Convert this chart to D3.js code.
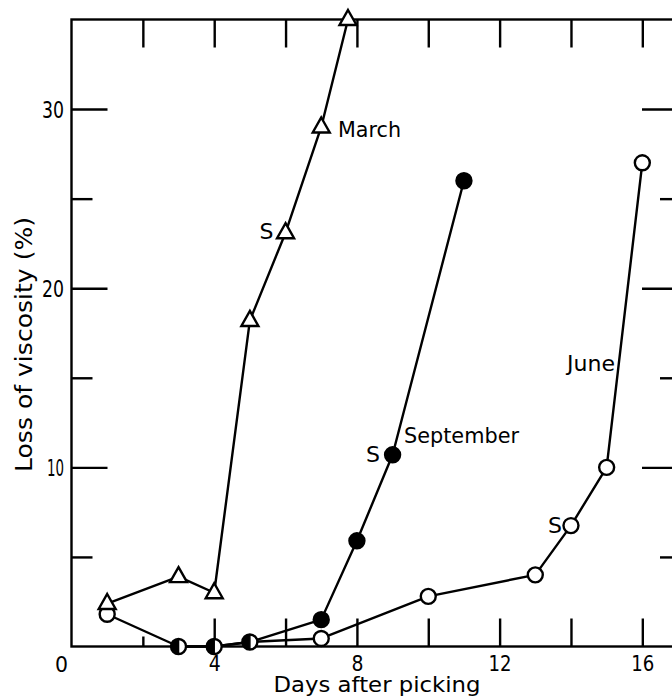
<!DOCTYPE html>
<html>
<head>
<meta charset="utf-8">
<script src="https://cdn.jsdelivr.net/npm/d3@7/dist/d3.min.js"></script>
<style>
  html, body { margin: 0; padding: 0; background: #fff; }
  svg { display: block; }
  text { font-family: "DejaVu Sans", "Liberation Sans", sans-serif; fill: #000; }
</style>
</head>
<body>
<svg id="chart" width="672" height="697"></svg>
<script>
// ---- data ----
const marchDays = [1, 3, 4, 5, 6, 7, 7.75];
const marchLoss = [2.4, 3.9, 3.0, 18.2, 23.1, 29.0, 35.0];

const septDays = [3, 4, 5, 7, 8, 9, 11];
const septLoss = [0, 0, 0.25, 1.5, 5.9, 10.7, 26.0];

const juneDays = [1, 3, 4, 5, 7, 10, 13, 14, 15, 16];
const juneLoss = [1.8, 0, 0, 0.25, 0.45, 2.8, 4.0, 6.75, 10.0, 27.0];

const xMajorTicks = [4, 8, 12, 16];
const xInnerTicks = [2, 4, 6, 8, 10, 12, 14, 16];
const yMajorTicks = [10, 20, 30];
const yMinorTicks = [5, 15, 25];

const seriesLabels = ["March", "September", "June"];
const sMarkLabel = "S";
const xTitle = "Days after picking";
const yTitle = "Loss of viscosity (%)";

// ---- layout ----
const svg = d3.select("#chart");
const x = d3.scaleLinear().domain([0, 17]).range([71.5, 678]);
const y = d3.scaleLinear().domain([0, 35]).range([646.5, 19.5]);

const ink = "#000";
const lw = 2.4;
const numFont = "'DejaVu Sans Condensed', 'Liberation Sans Narrow', sans-serif";

// frame
svg.append("rect")
  .attr("x", x(0)).attr("y", y(35))
  .attr("width", x(17) - x(0)).attr("height", y(0) - y(35))
  .attr("fill", "none").attr("stroke", ink).attr("stroke-width", lw);

// left major ticks with labels
const gLeft = svg.append("g").attr("transform", `translate(${x(0)},0)`)
  .call(d3.axisLeft(y).tickValues(yMajorTicks).tickSize(-36).tickPadding(7.5).tickFormat(d3.format("d")));
gLeft.select(".domain").remove();
gLeft.selectAll(".tick line").attr("stroke", ink).attr("stroke-width", lw);
gLeft.selectAll(".tick text")
  .attr("dy", "0.36em")
  .style("font-family", numFont)
  .style("font-size", "23px")
  .attr("textLength", d => d === 10 ? 17 : 22)
  .attr("lengthAdjust", "spacingAndGlyphs");

// left minor ticks
svg.append("g").attr("transform", `translate(${x(0)},0)`)
  .call(d3.axisLeft(y).tickValues(yMinorTicks).tickSize(-21).tickFormat(""))
  .call(g => g.select(".domain").remove())
  .selectAll(".tick line").attr("stroke", ink).attr("stroke-width", lw);

// right ticks (inward)
svg.append("g").attr("transform", `translate(${x(17)},0)`)
  .call(d3.axisRight(y).tickValues(yMajorTicks).tickSize(-36).tickFormat(""))
  .call(g => g.select(".domain").remove())
  .selectAll(".tick line").attr("stroke", ink).attr("stroke-width", lw);
svg.append("g").attr("transform", `translate(${x(17)},0)`)
  .call(d3.axisRight(y).tickValues(yMinorTicks).tickSize(-18).tickFormat(""))
  .call(g => g.select(".domain").remove())
  .selectAll(".tick line").attr("stroke", ink).attr("stroke-width", lw);

// top ticks (inward)
svg.append("g").attr("transform", `translate(0,${y(35)})`)
  .call(d3.axisTop(x).tickValues(xInnerTicks).tickSize(-28).tickFormat(""))
  .call(g => g.select(".domain").remove())
  .selectAll(".tick line").attr("stroke", ink).attr("stroke-width", lw);

// bottom ticks (inward); the tick at 2 is short in the reference
const gBottomTicks = svg.append("g").attr("transform", `translate(0,${y(0)})`)
  .call(d3.axisBottom(x).tickValues(xInnerTicks).tickSize(-28).tickFormat(""));
gBottomTicks.select(".domain").remove();
gBottomTicks.selectAll(".tick line").attr("stroke", ink).attr("stroke-width", lw)
  .attr("y2", d => d === 2 ? -10 : -28);

// bottom labels
const gBottom = svg.append("g").attr("transform", `translate(0,${y(0)})`)
  .call(d3.axisBottom(x).tickValues(xMajorTicks).tickSize(0).tickFormat(d3.format("d")));
gBottom.select(".domain").remove();
gBottom.selectAll(".tick text")
  .attr("y", 24.5).attr("dy", null)
  .style("font-family", numFont)
  .style("font-size", "21px")
  .attr("textLength", d => d >= 10 ? 23 : 12)
  .attr("lengthAdjust", "spacingAndGlyphs");

// origin "0"
svg.append("text")
  .attr("x", x(0) - 10).attr("y", y(0) + 25.5)
  .attr("text-anchor", "middle")
  .style("font-family", numFont)
  .style("font-size", "22px")
  .attr("textLength", 13).attr("lengthAdjust", "spacingAndGlyphs")
  .text("0");

// axis titles
svg.append("text")
  .attr("x", 377).attr("y", 692)
  .attr("text-anchor", "middle")
  .style("font-size", "20.5px")
  .attr("textLength", 207).attr("lengthAdjust", "spacingAndGlyphs")
  .text(xTitle);

svg.append("text")
  .attr("transform", `translate(32,344.5) rotate(-90)`)
  .attr("text-anchor", "middle")
  .style("font-size", "23px")
  .attr("textLength", 255).attr("lengthAdjust", "spacingAndGlyphs")
  .text(yTitle);

// ---- series ----
const zip = (a, b) => a.map((d, i) => [d, b[i]]);
const march = zip(marchDays, marchLoss);
const sept = zip(septDays, septLoss);
const june = zip(juneDays, juneLoss);

const line = d3.line().x(d => x(d[0])).y(d => y(d[1]));
[march, june, sept].forEach(s => {
  svg.append("path").attr("d", line(s))
    .attr("fill", "none").attr("stroke", ink).attr("stroke-width", lw)
    .attr("stroke-linejoin", "round");
});

// shared June/September points are drawn half-filled
const shared = sept.filter(p => june.some(q => q[0] === p[0] && q[1] === p[1]));
const isShared = p => shared.some(q => q[0] === p[0] && q[1] === p[1]);

const r = 7.5;
// June: open circles
svg.append("g").selectAll("circle").data(june.filter(p => !isShared(p))).join("circle")
  .attr("cx", d => x(d[0])).attr("cy", d => y(d[1])).attr("r", r)
  .attr("fill", "#fff").attr("stroke", ink).attr("stroke-width", lw);
// September: filled circles
svg.append("g").selectAll("circle").data(sept.filter(p => !isShared(p))).join("circle")
  .attr("cx", d => x(d[0])).attr("cy", d => y(d[1])).attr("r", r)
  .attr("fill", ink).attr("stroke", ink).attr("stroke-width", lw);
// shared: half-filled
const gHalf = svg.append("g").selectAll("g").data(shared).join("g")
  .attr("transform", d => `translate(${x(d[0])},${y(d[1])})`);
gHalf.append("circle").attr("r", r).attr("fill", "#fff").attr("stroke", ink).attr("stroke-width", lw);
gHalf.append("path").attr("d", `M0,${-r} A${r},${r} 0 0 0 0,${r} Z`).attr("fill", ink);
gHalf.append("line").attr("x1", 0).attr("x2", 0).attr("y1", -r).attr("y2", r)
  .attr("stroke", ink).attr("stroke-width", 1.5);

// March: open triangles
const tri = "M0,-9.5 L8.5,5.5 L-8.5,5.5 Z";
svg.append("g").selectAll("path").data(march).join("path")
  .attr("transform", d => `translate(${x(d[0])},${y(d[1])})`)
  .attr("d", tri)
  .attr("fill", "#fff").attr("stroke", ink).attr("stroke-width", lw).attr("stroke-linejoin", "miter");

// ---- annotations ----
const lab = (t, px, py, len, fs) => svg.append("text")
  .attr("x", px).attr("y", py).style("font-size", fs + "px")
  .attr("textLength", len).attr("lengthAdjust", "spacingAndGlyphs").text(t);

lab(seriesLabels[0], 338, 137, 63, 21);
lab(seriesLabels[1], 404, 443, 115, 21);
lab(seriesLabels[2], 567, 370.5, 48, 21);
lab(sMarkLabel, 259.5, 239, 14, 21);
lab(sMarkLabel, 366, 462, 14, 21);
lab(sMarkLabel, 548, 533, 14, 21);
</script>
</body>
</html>
